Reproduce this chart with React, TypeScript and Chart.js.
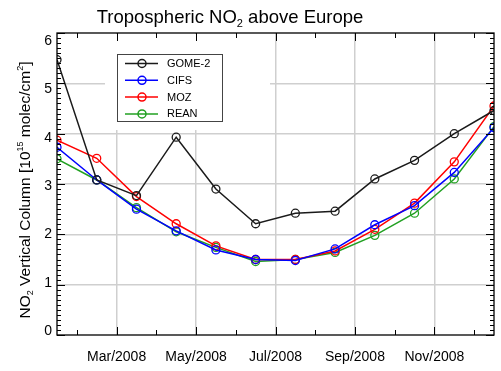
import { useEffect, useRef } from 'react';
import { Chart, registerables } from 'chart.js';

Chart.register(...registerables);

// ---- data ----
const POINT_INDEX = [0, 1, 2, 3, 4, 5, 6, 7, 8, 9, 10, 11]; // Jan..Dec 2008 (mid-month)
const GOME2 = [5.47, 3.08, 2.77, 3.93, 2.9, 2.21, 2.42, 2.46, 3.1, 3.47, 4.0, 4.46];
const CIFS = [3.73, 3.08, 2.5, 2.07, 1.69, 1.5, 1.48, 1.71, 2.19, 2.57, 3.23, 4.12];
const MOZ = [3.87, 3.51, 2.75, 2.21, 1.77, 1.5, 1.5, 1.67, 2.1, 2.62, 3.44, 4.55];
const REAN = [3.5, 3.08, 2.53, 2.05, 1.74, 1.46, 1.5, 1.64, 1.98, 2.42, 3.1, 4.14];

const SERIES_NAMES = ['GOME-2', 'CIFS', 'MOZ', 'REAN'];
const SERIES_COLORS = ['#1a1a1a', '#0000ff', '#ff0000', '#22a022'];

const X_TICK_POS = [0.5, 1.5, 2.5, 3.5, 4.5, 5.5, 6.5, 7.5, 8.5, 9.5, 10.5];
const X_TICK_LABELS = ['', 'Mar/2008', '', 'May/2008', '', 'Jul/2008', '', 'Sep/2008', '', 'Nov/2008', ''];
const Y_TICKS = [0, 1, 2, 3, 4, 5, 6];

const FONT = '"Liberation Sans", Arial, Helvetica, sans-serif';
const GRID = '#cfcfcf';

function drawRich(ctx: CanvasRenderingContext2D, parts: { t: string; k: 'n' | 'sub' | 'sup' }[], size: number, cx: number, baseline: number) {
  const small = Math.round(size * 0.6);
  const fontFor = (k: string) => `${k === 'n' ? size : small}px ${FONT}`;
  let total = 0;
  for (const p of parts) {
    ctx.font = fontFor(p.k);
    total += ctx.measureText(p.t).width;
  }
  let x = cx - total / 2;
  ctx.textBaseline = 'alphabetic';
  ctx.textAlign = 'left';
  for (const p of parts) {
    ctx.font = fontFor(p.k);
    const dy = p.k === 'sub' ? size * 0.22 : p.k === 'sup' ? -size * 0.42 : 0;
    ctx.fillText(p.t, x, baseline + dy);
    x += ctx.measureText(p.t).width;
  }
}

const overlay = {
  id: 'overlay',
  beforeDatasetsDraw(chart: any) {
    const { ctx, chartArea: a } = chart;
    // legend background region (hides grid lines behind legend)
    ctx.save();
    ctx.fillStyle = '#ffffff';
    ctx.fillRect(a.left + 48, a.top + 1, 165, 96);
    ctx.restore();
  },
  afterDraw(chart: any) {
    const { ctx, chartArea: a, scales } = chart;
    const xs = scales.x;
    const ys = scales.y;
    ctx.save();
    // ticks
    ctx.strokeStyle = '#000';
    ctx.lineWidth = 1;
    ctx.beginPath();
    X_TICK_POS.forEach((v, i) => {
      const px = Math.round(xs.getPixelForValue(v)) + 0.5;
      const len = X_TICK_LABELS[i] ? 8 : 5;
      ctx.moveTo(px, a.bottom);
      ctx.lineTo(px, a.bottom - len);
      ctx.moveTo(px, a.top);
      ctx.lineTo(px, a.top + len);
    });
    for (let k = 0; k <= 60; k++) {
      const py = Math.round(ys.getPixelForValue(k / 10)) + 0.5;
      const len = k % 10 === 0 ? 8 : 4;
      ctx.moveTo(a.left, py);
      ctx.lineTo(a.left + len, py);
      ctx.moveTo(a.right, py);
      ctx.lineTo(a.right - len, py);
    }
    ctx.stroke();
    // border
    ctx.lineWidth = 1.3;
    ctx.strokeRect(a.left, a.top, a.right - a.left, a.bottom - a.top);

    // title
    ctx.fillStyle = '#000';
    drawRich(ctx, [
      { t: 'Tropospheric NO', k: 'n' },
      { t: '2', k: 'sub' },
      { t: ' above Europe', k: 'n' },
    ], 18.5, 230, 23);

    // y-axis title (rotated)
    ctx.save();
    ctx.translate(29.5, 190);
    ctx.rotate(-Math.PI / 2);
    drawRich(ctx, [
      { t: 'NO', k: 'n' },
      { t: '2', k: 'sub' },
      { t: ' Vertical Column [10', k: 'n' },
      { t: '15', k: 'sup' },
      { t: ' molec/cm', k: 'n' },
      { t: '2', k: 'sup' },
      { t: ']', k: 'n' },
    ], 15.5, 0, 0);
    ctx.restore();

    // legend
    const bx = a.left + 60;
    const by = a.top + 21;
    ctx.strokeStyle = '#444';
    ctx.lineWidth = 1;
    ctx.strokeRect(bx + 0.5, by + 0.5, 105, 67);
    ctx.font = `11px ${FONT}`;
    ctx.textBaseline = 'middle';
    ctx.textAlign = 'left';
    SERIES_NAMES.forEach((name, i) => {
      const ry = by + 9.5 + i * 16.8;
      ctx.strokeStyle = SERIES_COLORS[i];
      ctx.lineWidth = 1.5;
      ctx.beginPath();
      ctx.moveTo(bx + 8, ry);
      ctx.lineTo(bx + 41, ry);
      ctx.stroke();
      ctx.beginPath();
      ctx.arc(bx + 25, ry, 4, 0, Math.PI * 2);
      ctx.stroke();
      ctx.fillStyle = '#000';
      ctx.fillText(name, bx + 50, ry + 0.5);
    });
    ctx.restore();
  },
};

export default function App() {
  const ref = useRef<HTMLCanvasElement>(null);
  useEffect(() => {
    document.body.style.margin = '0';
    const series = [GOME2, CIFS, MOZ, REAN];
    const chart = new Chart(ref.current as HTMLCanvasElement, {
      type: 'line',
      data: {
        datasets: series.map((vals, si) => ({
          label: SERIES_NAMES[si],
          data: POINT_INDEX.map((x, i) => ({ x, y: vals[i] })),
          borderColor: SERIES_COLORS[si],
          borderWidth: 1.5,
          pointRadius: 4,
          pointBorderWidth: 1.3,
          pointBorderColor: SERIES_COLORS[si],
          pointBackgroundColor: 'rgba(0,0,0,0)',
          tension: 0,
          fill: false,
          yAxisID: 'y',
        })),
      },
      options: {
        responsive: false,
        animation: false,
        devicePixelRatio: 1,
        layout: { padding: { top: 33, right: 7, left: 0, bottom: 0 } },
        plugins: { legend: { display: false }, title: { display: false }, tooltip: { enabled: false } },
        scales: {
          x: {
            type: 'linear',
            min: 0,
            max: 11,
            afterBuildTicks: (s: any) => {
              s.ticks = X_TICK_POS.map((v) => ({ value: v }));
            },
            afterFit: (s: any) => {
              s.height = 36;
            },
            grid: {
              color: (c: any) => (X_TICK_LABELS[c.index] ? GRID : 'rgba(0,0,0,0)'),
              lineWidth: 1.5,
              drawTicks: false,
            },
            border: { display: false },
            ticks: {
              autoSkip: false,
              maxRotation: 0,
              padding: 14,
              color: '#000',
              font: { family: FONT, size: 14 },
              callback: (_v: any, i: number) => X_TICK_LABELS[i],
            },
          },
          y: {
            type: 'linear',
            position: 'left',
            min: 0,
            max: 6,
            afterBuildTicks: (s: any) => {
              s.ticks = Y_TICKS.map((v) => ({ value: v }));
            },
            afterFit: (s: any) => {
              s.width = 0;
            },
            grid: {
              color: (c: any) => (c.tick && c.tick.value > 0 && c.tick.value < 6 ? GRID : 'rgba(0,0,0,0)'),
              lineWidth: 1.5,
              drawTicks: false,
            },
            border: { display: false },
            ticks: { display: false },
          },
          // label-only axis: the reference's tick labels sit on a slightly compressed spacing
          yLabels: {
            type: 'linear',
            position: 'left',
            min: -0.083,
            max: 6.166,
            afterBuildTicks: (s: any) => {
              s.ticks = Y_TICKS.map((v) => ({ value: v }));
            },
            afterFit: (s: any) => {
              s.width = 57;
            },
            grid: { display: false, drawTicks: false },
            border: { display: false },
            ticks: {
              padding: 5,
              color: '#000',
              font: { family: FONT, size: 14 },
              callback: (v: any) => String(v),
            },
          },
        },
      },
      plugins: [overlay],
    });
    return () => chart.destroy();
  }, []);
  return <canvas ref={ref} width={501} height={371} style={{ display: 'block', width: 501, height: 371 }} />;
}
